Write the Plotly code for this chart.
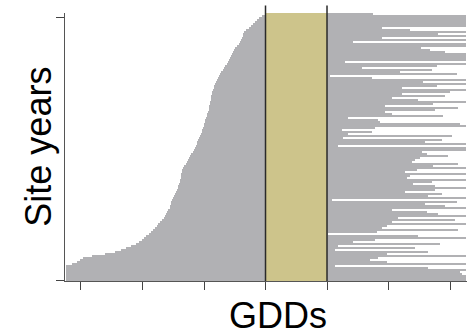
import plotly.graph_objects as go

# Site-year rows, listed top -> bottom
starts = [1996, 1972, 1951, 1931, 1911, 1898, 1886, 1866, 1841, 1829,
          1821, 1815, 1807, 1801, 1795, 1785, 1768, 1756, 1744, 1736,
          1728, 1720, 1711, 1703, 1695, 1685, 1673, 1663, 1652, 1641,
          1630, 1622, 1614, 1606, 1598, 1589, 1584, 1579, 1573, 1567,
          1563, 1559, 1557, 1553, 1549, 1546, 1543, 1541, 1537, 1533,
          1527, 1522, 1516, 1511, 1506, 1500, 1496, 1492, 1486, 1480,
          1474, 1467, 1459, 1454, 1447, 1439, 1431, 1423, 1415, 1407,
          1398, 1390, 1378, 1370, 1358, 1350, 1337, 1329, 1321, 1319,
          1316, 1313, 1309, 1305, 1301, 1297, 1291, 1285, 1280, 1272,
          1264, 1256, 1244, 1237, 1232, 1228, 1224, 1220, 1211, 1203,
          1195, 1183, 1171, 1159, 1142, 1126, 1118, 1102, 1089, 1069,
          1053, 1028, 1012, 996, 972, 947, 907, 866, 825, 776,
          695, 590, 516, 492, 467, 427, 378, 375, 375, 375,
          375, 375, 375, 375]

ends = [2874, 3630, 3630, 3630, 3630, 3630, 3630, 2947, 3175, 3630,
        3402, 3630, 2947, 3630, 2711, 3630, 3630, 3264, 3337, 3459,
        3630, 3630, 3630, 3630, 2646, 3630, 3394, 2785, 3354, 3093,
        3557, 2524, 2866, 3630, 3280, 3630, 3394, 3110, 3630, 3500,
        3110, 3459, 3028, 3240, 3630, 3362, 2972, 3565, 3378, 2972,
        3028, 3443, 2671, 2915, 2931, 3581, 3630, 2890, 2622, 2866,
        2671, 3516, 2630, 3435, 3297, 3630, 2590, 3630, 3630, 3272,
        3313, 3484, 3256, 3215, 3191, 3565, 3362, 3630, 3232, 3134,
        3630, 3175, 3150, 3630, 3354, 3199, 3378, 3630, 3378, 3134,
        3435, 3321, 3630, 2541, 3557, 3297, 3459, 3630, 3028, 3313,
        3402, 3630, 3077, 3541, 3028, 3630, 2988, 2947, 3565, 2907,
        2508, 3240, 3630, 2890, 2711, 3419, 2590, 3215, 2565, 3321,
        2988, 3630, 2915, 2850, 2988, 3630, 2565, 3321, 3630, 3581,
        3598, 3630, 3630, 3630]

window_start = 2000
window_end = 2500
x_ticks = [500, 1000, 1500, 2000, 2500, 3000, 3500]
x_range = [370, 3638]

n = len(starts)
rows = [n - j for j in range(n)]
lengths = [e - s for s, e in zip(starts, ends)]

fig = go.Figure()
fig.add_trace(go.Bar(
    x=lengths, base=starts, y=rows, orientation="h",
    width=0.86, marker=dict(color="#b1b1b4", line=dict(width=0)),
    hoverinfo="skip", showlegend=False,
))

fig.add_shape(type="rect", xref="x", yref="paper",
              x0=window_start, x1=window_end, y0=0, y1=1,
              fillcolor="rgba(223,208,112,0.6)", line=dict(width=0), layer="above")
for xv in (window_start, window_end):
    fig.add_shape(type="line", xref="x", yref="paper",
                  x0=xv, x1=xv, y0=0, y1=1.028,
                  line=dict(color="#2a2a2a", width=1.5), layer="above")

fig.add_annotation(text="Site years", xref="paper", yref="paper",
                   x=-0.068, y=0.5, textangle=-90, showarrow=False,
                   xanchor="center", yanchor="middle",
                   font=dict(family="Liberation Sans, Arial, sans-serif", size=36, color="#000"))
fig.add_annotation(text="GDDs", xref="paper", yref="paper",
                   x=0.53, y=-0.128, showarrow=False,
                   xanchor="center", yanchor="middle",
                   font=dict(family="Liberation Sans, Arial, sans-serif", size=36, color="#000"))

fig.update_layout(
    width=471, height=336,
    margin=dict(l=65, r=4, t=13, b=55),
    paper_bgcolor="white", plot_bgcolor="white",
    bargap=0,
    xaxis=dict(range=x_range, tickvals=x_ticks, showticklabels=False,
               ticks="outside", ticklen=8, tickwidth=1.2, tickcolor="#444",
               showline=True, linecolor="#555", linewidth=1.2,
               showgrid=False, zeroline=False),
    yaxis=dict(range=[0.5, n + 0.5], tickvals=[1, n - 1.5], showticklabels=False,
               ticks="outside", ticklen=8, tickwidth=1.2, tickcolor="#444",
               showline=True, linecolor="#555", linewidth=1.2,
               showgrid=False, zeroline=False),
)

fig.write_html("out.html")
